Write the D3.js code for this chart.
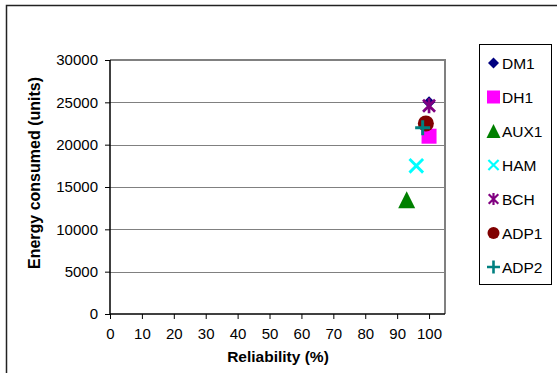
<!DOCTYPE html>
<html><head><meta charset="utf-8">
<script src="https://cdn.jsdelivr.net/npm/d3@7"></script>
<style>body{margin:0;background:#fff}svg{display:block}text{font-family:"Liberation Sans",Arial,sans-serif}</style>
</head><body><svg id="c" width="557" height="373"></svg>
<script>
const seriesNames = ["DM1","DH1","AUX1","HAM","BCH","ADP1","ADP2"];
const reliability = [100, 100, 93, 96, 100, 99, 98];
const energy = [25000, 21000, 13500, 17500, 24600, 22500, 22000];
const colors = ["#000080","#FF00FF","#008000","#00FFFF","#800080","#800000","#008080"];
const shapes = ["diamond","square","triangle","x","star","circle","plus"];
const xTicks = [0,10,20,30,40,50,60,70,80,90,100];
const yTicks = [0,5000,10000,15000,20000,25000,30000];

const svg = d3.select("#c");
const L=110, R=445, T=60, B=314;
const x = d3.scaleLinear().domain([0,105]).range([L,R]);
const y = d3.scaleLinear().domain([0,30000]).range([B,T]);

// outer frame
svg.append("path").attr("d","M6.5,373 V5.5 H557").attr("fill","none").attr("stroke","#222").attr("stroke-width",1.5);

// gridlines
svg.append("g").selectAll("line").data(yTicks.filter(d=>d>0)).join("line")
  .attr("x1",L).attr("x2",R).attr("y1",d=>Math.round(y(d))+0.5).attr("y2",d=>Math.round(y(d))+0.5)
  .attr("stroke","#808080").attr("stroke-width",1);
// plot border (top/right)
svg.append("path").attr("d",`M${L},${T} H${R} V${B}`).attr("fill","none").attr("stroke","#808080").attr("stroke-width",2);

// axes
const yAxis = d3.axisLeft(y).tickValues(yTicks).tickSize(5).tickPadding(7).tickFormat(d3.format("d"));
const gy = svg.append("g").attr("transform",`translate(${L},0)`).call(yAxis);
const xAxis = d3.axisBottom(x).tickValues(xTicks).tickSize(5).tickPadding(9).tickFormat(d3.format("d"));
const gx = svg.append("g").attr("transform",`translate(0,${B})`).call(xAxis);
[gx,gy].forEach(g=>{
  g.select(".domain").attr("stroke","#000").attr("stroke-width",1.5);
  g.selectAll(".tick line").attr("stroke","#000");
  g.selectAll("text").attr("font-size",15).attr("fill","#000").attr("font-family","'Liberation Sans',Arial,sans-serif");
});
gx.select(".domain").attr("d",`M${L},0H${R}`);
gy.select(".domain").attr("d",`M0,${B}V${T}`);

svg.append("text").attr("x",278).attr("y",362).attr("text-anchor","middle")
  .attr("font-size",15.5).attr("font-weight","bold").text("Reliability (%)");
svg.append("text").attr("transform","translate(40,173) rotate(-90)").attr("text-anchor","middle")
  .attr("font-size",16).attr("font-weight","bold").text("Energy consumed (units)");

function marker(g, shape, color, s){
  const h=s/2;
  if(shape==="diamond") g.append("path").attr("d",`M0,${-h}L${h},0L0,${h}L${-h},0Z`).attr("fill",color);
  else if(shape==="square") g.append("rect").attr("x",-h).attr("y",-h).attr("width",s).attr("height",s).attr("fill",color);
  else if(shape==="triangle") g.append("path").attr("d",`M0,${-h}L${h},${h}L${-h},${h}Z`).attr("fill",color);
  else if(shape==="circle") g.append("circle").attr("r",h).attr("fill",color);
  else if(shape==="x") g.append("path").attr("d",`M${-h*0.85},${-h*0.85}L${h*0.85},${h*0.85}M${h*0.85},${-h*0.85}L${-h*0.85},${h*0.85}`).attr("stroke",color).attr("stroke-width",s*0.18);
  else if(shape==="plus") g.append("path").attr("d",`M${-h},0H${h}M0,${-h}V${h}`).attr("stroke",color).attr("stroke-width",s*0.2);
  else if(shape==="star") g.append("path").attr("d",`M${-h*0.8},${-h*0.8}L${h*0.8},${h*0.8}M${h*0.8},${-h*0.8}L${-h*0.8},${h*0.8}M0,${-h}V${h}`).attr("stroke",color).attr("stroke-width",s*0.18);
}

const psize = {diamond:12, square:15, triangle:17, circle:16, x:16, star:15, plus:15};
seriesNames.forEach((n,i)=>{
  const g = svg.append("g").attr("transform",`translate(${x(reliability[i])},${y(energy[i])})`);
  marker(g, shapes[i], colors[i], psize[shapes[i]]);
});

// legend
const lg = svg.append("g");
lg.append("rect").attr("x",479.5).attr("y",44.5).attr("width",72).attr("height",240)
  .attr("fill","#fff").attr("stroke","#000").attr("stroke-width",1);
seriesNames.forEach((n,i)=>{
  const cy = 63 + i*34;
  const g = lg.append("g").attr("transform",`translate(493.5,${cy})`);
  const ls = {diamond:11, square:13, triangle:14, circle:12, x:12, star:12, plus:13};
  marker(g, shapes[i], colors[i], ls[shapes[i]]);
  lg.append("text").attr("x",502).attr("y",cy+5.5).attr("font-size",15.5).attr("fill","#000").text(n);
});
</script></body></html>
